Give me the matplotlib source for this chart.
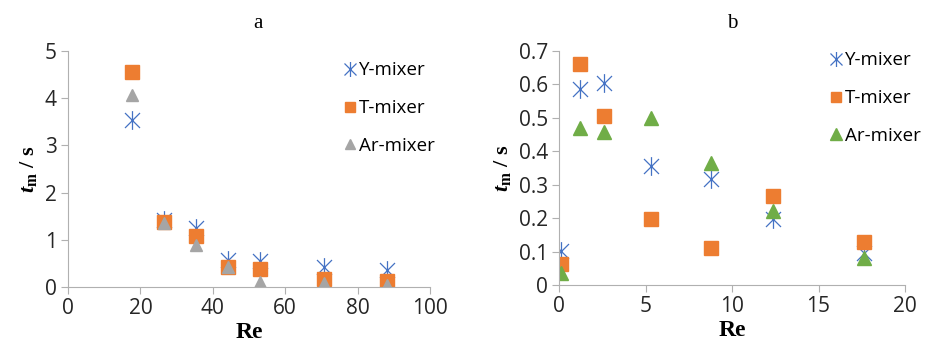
import matplotlib
matplotlib.use("Agg")
import matplotlib.pyplot as plt
from matplotlib.path import Path

plt.rcParams["font.family"] = ["Open Sans", "DejaVu Sans"]
plt.rcParams["mathtext.fontset"] = "custom"
plt.rcParams["mathtext.it"] = "Liberation Serif:italic:bold"
plt.rcParams["mathtext.bfit"] = "Liberation Serif:italic:bold"
plt.rcParams["mathtext.bf"] = "Liberation Serif:bold"
plt.rcParams["mathtext.rm"] = "Liberation Serif:bold"

# panel a
re_a = [17.6, 26.5, 35.3, 44.1, 53.0, 70.6, 88.2]
y_a = [3.53, 1.42, 1.25, 0.57, 0.55, 0.42, 0.36]
t_a = [4.55, 1.38, 1.07, 0.43, 0.38, 0.18, 0.12]
ar_a = [4.07, 1.36, 0.90, 0.42, 0.10, 0.08, 0.05]

# panel b
re_b = [0.1, 1.24, 2.6, 5.3, 8.8, 12.35, 17.65]
y_b = [0.103, 0.587, 0.603, 0.357, 0.316, 0.197, 0.097]
t_b = [0.064, 0.661, 0.505, 0.198, 0.110, 0.266, 0.129]
ar_b = [0.035, 0.470, 0.458, 0.500, 0.366, 0.220, 0.080]

BLUE = "#4472C4"
ORANGE = "#ED7D31"
GRAY = "#A5A5A5"
GREEN = "#70AD47"
AXIS = "#B0B0B0"

# Excel style star: vertical bar plus an X
star = Path(
    [(0, -1), (0, 1), (-0.8, -0.8), (0.8, 0.8), (-0.8, 0.8), (0.8, -0.8)],
    [Path.MOVETO, Path.LINETO, Path.MOVETO, Path.LINETO, Path.MOVETO, Path.LINETO],
)

fig = plt.figure(figsize=(9.25, 3.53), dpi=100)
ax_a = fig.add_axes([68 / 925, 66 / 353, 362 / 925, 236 / 353])
ax_b = fig.add_axes([559 / 925, 68 / 353, 346 / 925, 234 / 353])


def draw(ax, re, ys, ts, ars, tri_color, tri_size):
    ax.plot(re, ys, ls="none", marker=star, ms=13.5, mfc="none", mec=BLUE, mew=0.9, label="Y-mixer")
    ax.plot(re, ts, ls="none", marker="s", ms=9.5, mfc=ORANGE, mec=ORANGE, label="T-mixer")
    ax.plot(re, ars, ls="none", marker="^", ms=tri_size, mfc=tri_color, mec=tri_color, label="Ar-mixer")
    for side in ("top", "right"):
        ax.spines[side].set_visible(False)
    for side in ("left", "bottom"):
        ax.spines[side].set_color(AXIS)
    ax.tick_params(colors=AXIS, labelcolor="#262626", labelsize=15, length=5, direction="out", pad=3)
    ax.set_xlabel("Re", family="Liberation Serif", fontweight="bold", fontsize=17, labelpad=2)
    ax.set_ylabel(r"$\mathbfit{t}_{\mathbf{m}}$ / s", family="Liberation Serif", fontweight="bold",
                  fontsize=16, labelpad=4)


draw(ax_a, re_a, y_a, t_a, ar_a, GRAY, 8.5)
ax_a.set_xlim(0, 100)
ax_a.set_ylim(0, 5)
ax_a.set_xticks([0, 20, 40, 60, 80, 100])
ax_a.set_yticks([0, 1, 2, 3, 4, 5])
fig.text(258 / 925, 1 - 24 / 353, "a", family="Liberation Serif", fontsize=15, ha="center", va="center")

draw(ax_b, re_b, y_b, t_b, ar_b, GREEN, 10)
ax_b.set_xlim(0, 20)
ax_b.set_ylim(0, 0.7)
ax_b.set_xticks([0, 5, 10, 15, 20])
ax_b.set_yticks([0, 0.1, 0.2, 0.3, 0.4, 0.5, 0.6, 0.7])
ax_b.set_yticklabels(["0", "0.1", "0.2", "0.3", "0.4", "0.5", "0.6", "0.7"])
fig.text(732 / 925, 1 - 24 / 353, "b", family="Liberation Serif", fontsize=15, ha="center", va="center")

for ax, x0, y0 in ((ax_a, 334 / 925, 1 - 52 / 353), (ax_b, 820 / 925, 1 - 42 / 353)):
    ax.legend(loc="upper left", bbox_to_anchor=(x0, y0), bbox_transform=fig.transFigure,
              frameon=False, fontsize=13.5, labelspacing=1.05, handlelength=0.7,
              handletextpad=0.15, borderpad=0, markerscale=0.8)

fig.savefig("out.png", dpi=100)
